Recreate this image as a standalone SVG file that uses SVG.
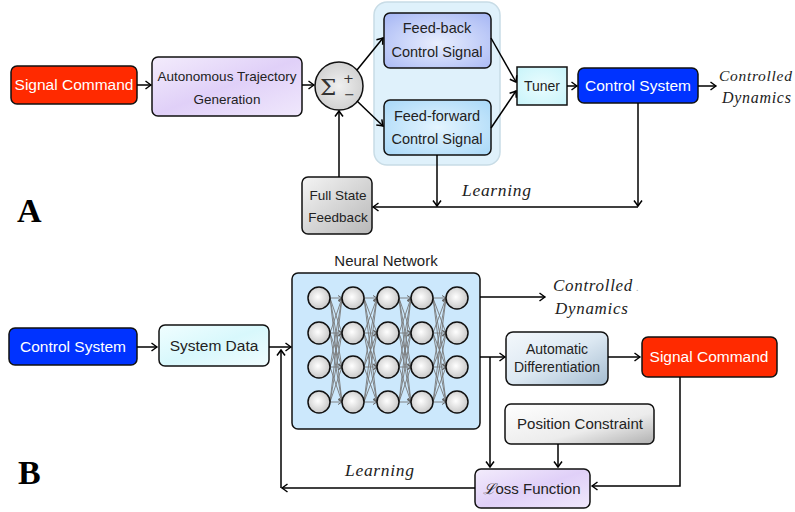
<svg xmlns="http://www.w3.org/2000/svg" width="795" height="512" viewBox="0 0 795 512">
<defs>
<marker id="arr" viewBox="-7 -5 8 10" refX="0" refY="0" markerWidth="8" markerHeight="10" orient="auto" markerUnits="userSpaceOnUse">
<path d="M-5.5,-4 Q-1.5,-1 0,0 Q-1.5,1 -5.5,4" fill="none" stroke="#000" stroke-width="1.5"/>
</marker>
<marker id="arrg" viewBox="-5 -3 6 6" refX="0" refY="0" markerWidth="6" markerHeight="6" orient="auto" markerUnits="userSpaceOnUse">
<path d="M-4,-2.5 L0,0 L-4,2.5" fill="none" stroke="#666" stroke-width="1"/>
</marker>
<linearGradient id="gLav" x1="0" y1="0" x2="1" y2="1"><stop offset="0" stop-color="#f3ecfc"/><stop offset="0.5" stop-color="#e0d0f8"/><stop offset="1" stop-color="#f0e8fc"/></linearGradient>
<radialGradient id="gFb" cx="0.5" cy="0.55" r="0.7"><stop offset="0" stop-color="#e8eefe"/><stop offset="1" stop-color="#a8b8f4"/></radialGradient>
<radialGradient id="gFf" cx="0.5" cy="0.5" r="0.7"><stop offset="0" stop-color="#e4f4fe"/><stop offset="1" stop-color="#a8d8f8"/></radialGradient>
<radialGradient id="gTun" cx="0.5" cy="0.5" r="0.7"><stop offset="0" stop-color="#eafcfe"/><stop offset="1" stop-color="#c8f4fa"/></radialGradient>
<linearGradient id="gGrey" x1="0" y1="0" x2="1" y2="1"><stop offset="0" stop-color="#f4f4f4"/><stop offset="1" stop-color="#b8b8b8"/></linearGradient>
<linearGradient id="gPos" x1="0" y1="0" x2="1" y2="1"><stop offset="0" stop-color="#ffffff"/><stop offset="0.6" stop-color="#ececec"/><stop offset="1" stop-color="#b0b0b0"/></linearGradient>
<linearGradient id="gAd" x1="0" y1="0" x2="1" y2="1"><stop offset="0" stop-color="#f4f8fc"/><stop offset="0.5" stop-color="#dce8f2"/><stop offset="1" stop-color="#a4bcd0"/></linearGradient>
<linearGradient id="gSd" x1="0" y1="0" x2="1" y2="1"><stop offset="0" stop-color="#f0feff"/><stop offset="0.5" stop-color="#d8f8fc"/><stop offset="1" stop-color="#f0fcfe"/></linearGradient>
<radialGradient id="gNeu" cx="0.45" cy="0.45" r="0.6"><stop offset="0" stop-color="#ffffff"/><stop offset="1" stop-color="#c4c4c4"/></radialGradient>
<radialGradient id="gSum" cx="0.5" cy="0.5" r="0.6"><stop offset="0" stop-color="#f0f0f0"/><stop offset="1" stop-color="#cccccc"/></radialGradient>
</defs>
<style>
.box{stroke:#111;stroke-width:1.5}
.t{font-family:"Liberation Sans",Arial,sans-serif;fill:#222;text-anchor:middle}
.tw{font-family:"Liberation Sans",Arial,sans-serif;fill:#fff;text-anchor:middle}
.it{font-family:"Liberation Serif","Times New Roman",serif;font-style:italic;fill:#222;letter-spacing:0.7px}
.lbl{font-family:"Liberation Serif","Times New Roman",serif;font-weight:bold;fill:#000;font-size:34px}
.c{fill:none;stroke:#000;stroke-width:1.5;marker-end:url(#arr)}
.nn line{stroke:#777;stroke-width:0.9;marker-end:url(#arrg)}
.neu{fill:url(#gNeu);stroke:#111;stroke-width:1.5}
</style>

<!-- Part A -->
<text class="lbl" x="17" y="222">A</text>
<rect id="ffcontainer" x="374" y="2" width="126" height="163" rx="13" fill="#dff1fb" stroke="#c8dce6" stroke-width="1.5"/>

<g id="a_signal"><rect class="box" x="11" y="66" width="126" height="38" rx="6" fill="#ff2a00"/><text class="tw" x="74" y="90" font-size="15.5">Signal Command</text></g>
<g id="a_traj"><rect class="box" x="152" y="57" width="150" height="59" rx="6" fill="url(#gLav)"/><text class="t" x="227" y="81" font-size="13.5">Autonomous Trajectory</text><text class="t" x="227" y="104" font-size="13.5">Generation</text></g>
<g id="a_sum"><circle cx="339" cy="86" r="24" fill="url(#gSum)" stroke="#111" stroke-width="1.5"/><text x="320" y="95" font-family="DejaVu Serif,serif" font-size="23" fill="#333">Σ</text><text x="343" y="83" font-family="DejaVu Sans,sans-serif" font-size="13" fill="#333">+</text><text x="344" y="99" font-family="DejaVu Sans,sans-serif" font-size="13" fill="#333">−</text></g>
<g id="a_fb"><rect class="box" x="384" y="13" width="107" height="55" rx="6" fill="url(#gFb)"/><text class="t" x="437" y="33" font-size="14.5">Feed-back</text><text class="t" x="437" y="57" font-size="14.5">Control Signal</text></g>
<g id="a_ff"><rect class="box" x="384" y="100" width="107" height="55" rx="6" fill="url(#gFf)"/><text class="t" x="437" y="121" font-size="14.5">Feed-forward</text><text class="t" x="437" y="144" font-size="14.5">Control Signal</text></g>
<g id="a_tuner"><rect class="box" x="517" y="67" width="50" height="38" fill="url(#gTun)"/><text class="t" x="542" y="91" font-size="14">Tuner</text></g>
<g id="a_ctrl"><rect class="box" x="578" y="68" width="120" height="35" rx="6" fill="#0033ff"/><text class="tw" x="638" y="91" font-size="15.5">Control System</text></g>
<g id="a_fsf"><rect class="box" x="302" y="177" width="70" height="57" rx="6" fill="url(#gGrey)"/><text class="t" x="338" y="200" font-size="13.5">Full State</text><text class="t" x="338" y="222" font-size="13.5">Feedback</text></g>
<g id="a_out"><text class="it" x="719" y="81" font-size="15.5" letter-spacing="0">Controlled</text><text class="it" x="722" y="103" font-size="16" letter-spacing="0.3">Dynamics</text></g>
<text class="it" x="462" y="196" font-size="17.5">Learning</text>

<g id="a_connectors">
<line class="c" x1="137" y1="85" x2="151" y2="85"/>
<line class="c" x1="302" y1="85" x2="314" y2="85"/>
<line class="c" x1="357" y1="70" x2="383" y2="38"/>
<line class="c" x1="357" y1="101" x2="383" y2="126"/>
<line class="c" x1="491" y1="38" x2="516" y2="82"/>
<line class="c" x1="491" y1="128" x2="516" y2="91"/>
<line class="c" x1="567" y1="86" x2="577" y2="86"/>
<line class="c" x1="698" y1="86" x2="716" y2="86"/>
<line class="c" x1="638" y1="103" x2="638" y2="206"/>
<line class="c" x1="437" y1="155" x2="437" y2="206"/>
<line class="c" x1="638" y1="207" x2="373" y2="207"/>
<line class="c" x1="339" y1="177" x2="339" y2="111"/>
</g>

<!-- Part B -->
<text class="lbl" x="18" y="484">B</text>
<g id="b_ctrl"><rect class="box" x="9" y="328" width="128" height="37" rx="6" fill="#0033ff"/><text class="tw" x="73" y="352" font-size="15.5">Control System</text></g>
<g id="b_sysdata"><rect class="box" x="159" y="325" width="110" height="41" rx="6" fill="url(#gSd)"/><text class="t" x="214" y="351" font-size="15.5">System Data</text></g>
<g id="b_nn">
<text class="t" x="386" y="266" font-size="15">Neural Network</text>
<rect class="box" x="292" y="273" width="188" height="156" rx="6" fill="#cce8fc"/>
<g class="nn">
<line x1="330" y1="298" x2="342" y2="298"/><line x1="330" y1="298" x2="342" y2="333"/><line x1="330" y1="298" x2="342" y2="367"/><line x1="330" y1="298" x2="342" y2="402"/>
<line x1="330" y1="333" x2="342" y2="298"/><line x1="330" y1="333" x2="342" y2="333"/><line x1="330" y1="333" x2="342" y2="367"/><line x1="330" y1="333" x2="342" y2="402"/>
<line x1="330" y1="367" x2="342" y2="298"/><line x1="330" y1="367" x2="342" y2="333"/><line x1="330" y1="367" x2="342" y2="367"/><line x1="330" y1="367" x2="342" y2="402"/>
<line x1="330" y1="402" x2="342" y2="298"/><line x1="330" y1="402" x2="342" y2="333"/><line x1="330" y1="402" x2="342" y2="367"/><line x1="330" y1="402" x2="342" y2="402"/>
<line x1="364" y1="298" x2="377" y2="298"/><line x1="364" y1="298" x2="377" y2="333"/><line x1="364" y1="298" x2="377" y2="367"/><line x1="364" y1="298" x2="377" y2="402"/>
<line x1="364" y1="333" x2="377" y2="298"/><line x1="364" y1="333" x2="377" y2="333"/><line x1="364" y1="333" x2="377" y2="367"/><line x1="364" y1="333" x2="377" y2="402"/>
<line x1="364" y1="367" x2="377" y2="298"/><line x1="364" y1="367" x2="377" y2="333"/><line x1="364" y1="367" x2="377" y2="367"/><line x1="364" y1="367" x2="377" y2="402"/>
<line x1="364" y1="402" x2="377" y2="298"/><line x1="364" y1="402" x2="377" y2="333"/><line x1="364" y1="402" x2="377" y2="367"/><line x1="364" y1="402" x2="377" y2="402"/>
<line x1="399" y1="298" x2="411" y2="298"/><line x1="399" y1="298" x2="411" y2="333"/><line x1="399" y1="298" x2="411" y2="367"/><line x1="399" y1="298" x2="411" y2="402"/>
<line x1="399" y1="333" x2="411" y2="298"/><line x1="399" y1="333" x2="411" y2="333"/><line x1="399" y1="333" x2="411" y2="367"/><line x1="399" y1="333" x2="411" y2="402"/>
<line x1="399" y1="367" x2="411" y2="298"/><line x1="399" y1="367" x2="411" y2="333"/><line x1="399" y1="367" x2="411" y2="367"/><line x1="399" y1="367" x2="411" y2="402"/>
<line x1="399" y1="402" x2="411" y2="298"/><line x1="399" y1="402" x2="411" y2="333"/><line x1="399" y1="402" x2="411" y2="367"/><line x1="399" y1="402" x2="411" y2="402"/>
<line x1="433" y1="298" x2="446" y2="298"/><line x1="433" y1="298" x2="446" y2="333"/><line x1="433" y1="298" x2="446" y2="367"/><line x1="433" y1="298" x2="446" y2="402"/>
<line x1="433" y1="333" x2="446" y2="298"/><line x1="433" y1="333" x2="446" y2="333"/><line x1="433" y1="333" x2="446" y2="367"/><line x1="433" y1="333" x2="446" y2="402"/>
<line x1="433" y1="367" x2="446" y2="298"/><line x1="433" y1="367" x2="446" y2="333"/><line x1="433" y1="367" x2="446" y2="367"/><line x1="433" y1="367" x2="446" y2="402"/>
<line x1="433" y1="402" x2="446" y2="298"/><line x1="433" y1="402" x2="446" y2="333"/><line x1="433" y1="402" x2="446" y2="367"/><line x1="433" y1="402" x2="446" y2="402"/>
</g>
<g>
<circle class="neu" cx="319" cy="298" r="11"/><circle class="neu" cx="319" cy="333" r="11"/><circle class="neu" cx="319" cy="367" r="11"/><circle class="neu" cx="319" cy="402" r="11"/>
<circle class="neu" cx="353" cy="298" r="11"/><circle class="neu" cx="353" cy="333" r="11"/><circle class="neu" cx="353" cy="367" r="11"/><circle class="neu" cx="353" cy="402" r="11"/>
<circle class="neu" cx="388" cy="298" r="11"/><circle class="neu" cx="388" cy="333" r="11"/><circle class="neu" cx="388" cy="367" r="11"/><circle class="neu" cx="388" cy="402" r="11"/>
<circle class="neu" cx="422" cy="298" r="11"/><circle class="neu" cx="422" cy="333" r="11"/><circle class="neu" cx="422" cy="367" r="11"/><circle class="neu" cx="422" cy="402" r="11"/>
<circle class="neu" cx="457" cy="298" r="11"/><circle class="neu" cx="457" cy="333" r="11"/><circle class="neu" cx="457" cy="367" r="11"/><circle class="neu" cx="457" cy="402" r="11"/>
</g>
</g>
<g id="b_out"><text class="it" x="553" y="291" font-size="17">Controlled</text><text x="636" y="291" font-family="Liberation Serif,serif" font-size="10" fill="#aaa">.</text><text class="it" x="555" y="314" font-size="17">Dynamics</text></g>
<g id="b_ad"><rect class="box" x="506" y="332" width="102" height="53" rx="7" fill="url(#gAd)"/><text class="t" x="557" y="354" font-size="14">Automatic</text><text class="t" x="557" y="372" font-size="14">Differentiation</text></g>
<g id="b_signal"><rect class="box" x="642" y="337" width="135" height="40" rx="6" fill="#ff2a00"/><text class="tw" x="709" y="362" font-size="15.5">Signal Command</text></g>
<g id="b_pos"><rect class="box" x="505" y="404" width="149" height="40" rx="6" fill="url(#gPos)"/><text class="t" x="580" y="429" font-size="15">Position Constraint</text></g>
<g id="b_loss"><rect class="box" x="475" y="469" width="115" height="39" rx="6" fill="url(#gLav)"/><text class="t" x="532" y="494" font-size="15"><tspan font-family="DejaVu Serif,serif" font-style="italic">ℒ</tspan>oss Function</text></g>
<text class="it" x="345" y="476" font-size="17.5">Learning</text>

<g id="b_connectors">
<line class="c" x1="137" y1="347" x2="157" y2="347"/>
<line class="c" x1="269" y1="347" x2="291" y2="347"/>
<line class="c" x1="480" y1="297" x2="545" y2="297"/>
<line class="c" x1="480" y1="357" x2="505" y2="357"/>
<line class="c" x1="490" y1="357" x2="490" y2="467"/>
<line class="c" x1="608" y1="357" x2="640" y2="357"/>
<line class="c" x1="558" y1="444" x2="558" y2="467"/>
<polyline class="c" points="680,377 680,486 592,486"/>
<line class="c" x1="475" y1="488" x2="282" y2="488"/>
<line class="c" x1="281" y1="488" x2="281" y2="350"/>
</g>
</svg>
